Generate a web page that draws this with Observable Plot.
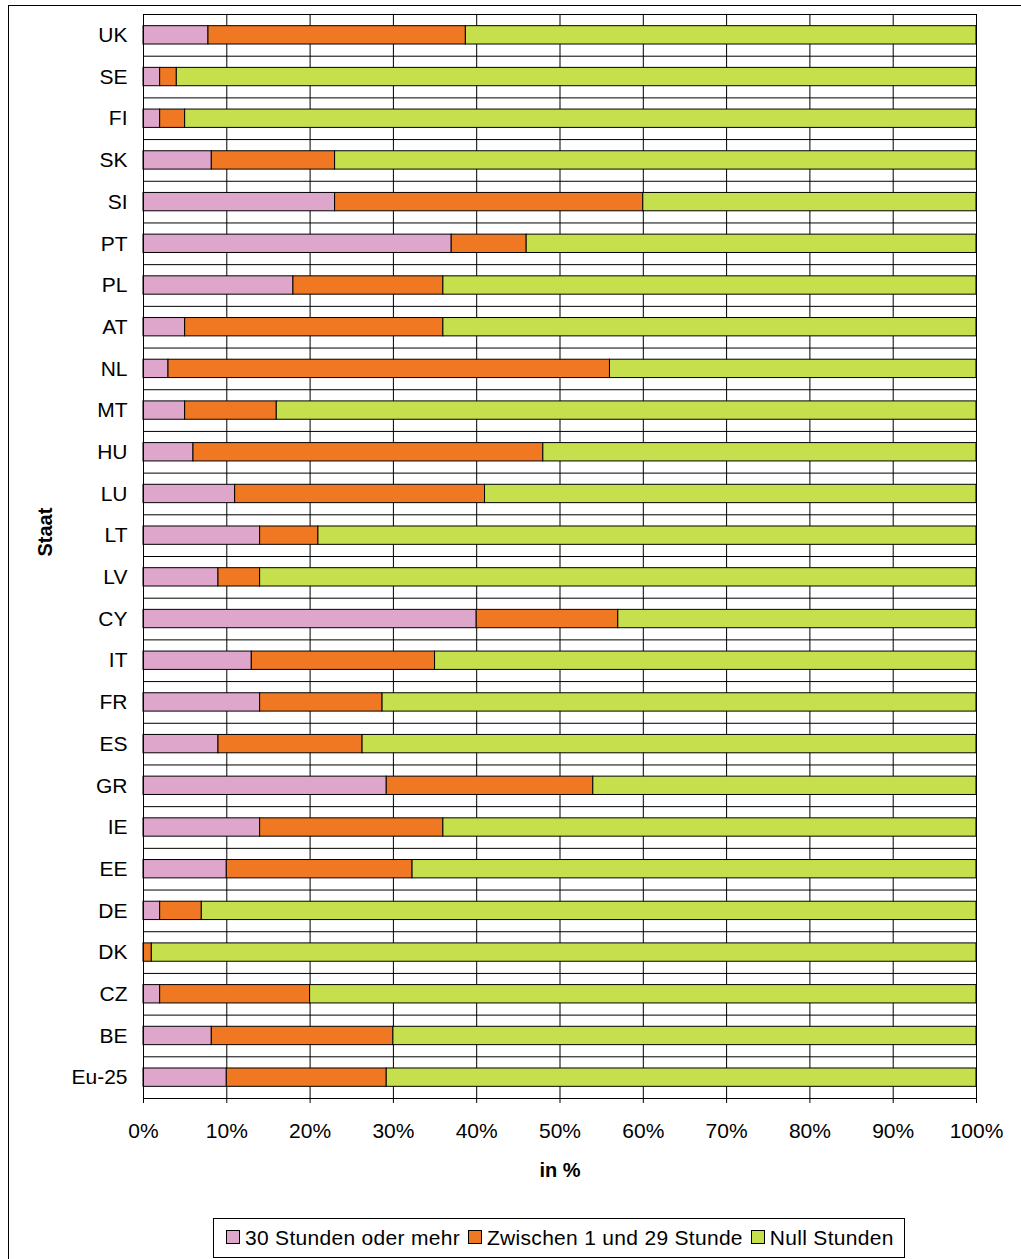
<!DOCTYPE html>
<html><head><meta charset="utf-8">
<script src="https://cdn.jsdelivr.net/npm/d3@7"></script>
<script src="https://cdn.jsdelivr.net/npm/@observablehq/plot@0.6"></script>
<style>
body{margin:0;font-family:"Liberation Sans",Arial,sans-serif;}
#frame{position:absolute;left:8px;top:5px;width:1020px;height:1262px;border:1px solid #000;box-sizing:border-box;}
#chart{position:absolute;left:0;top:0;}
#legend{position:absolute;top:1218px;left:213px;border:1px solid #000;padding:7px 10px 7px 4px;font-size:21px;white-space:nowrap;background:#fff;letter-spacing:0.3px}
#legend span.sw{display:inline-block;width:12px;height:12px;border:1px solid #000;margin:0 5px 0 8px;vertical-align:1px}
</style></head>
<body>
<div id="frame"></div>
<div id="chart"></div>
<div id="legend"></div>
<script>
// Staaten von oben nach unten
const staaten = ["UK","SE","FI","SK","SI","PT","PL","AT","NL","MT","HU","LU","LT","LV","CY","IT","FR","ES","GR","IE","EE","DE","DK","CZ","BE","Eu-25"]
const mehr30 = [7.8,2,2,8.2,23,37,18,5,3,5,6,11,14,9,40,13,14,9,29.2,14,10,2,0,2,8.2,10]
const zw1_29 = [30.9,2,3,14.8,37,9,18,31,53,11,42,30,7,5,17,22,14.7,17.3,24.8,22,22.3,5,1,18,21.8,19.2]
const serien = ["30 Stunden oder mehr","Zwischen 1 und 29 Stunde","Null Stunden"]
const farben = ["#dda6ca","#f07822","#c5e04c"]

const data = []
staaten.forEach((s,i) => {
  data.push({staat:s, serie:serien[0], wert:mehr30[i]})
  data.push({staat:s, serie:serien[1], wert:zw1_29[i]})
  data.push({staat:s, serie:serien[2], wert:100 - mehr30[i] - zw1_29[i]})
})

const height = 1190, mTop = 14, mBottom = 92
const step = (height - mTop - mBottom) / staaten.length

let chart = Plot.plot({
  width: 1021,
  height: height,
  marginLeft: 143,
  marginRight: 45,
  marginTop: mTop,
  marginBottom: mBottom,
  style: {fontFamily: '"Liberation Sans",Arial,sans-serif', fontSize: "21px", color: "black", background: "transparent"},
  x: {domain: [0,100]},
  y: {domain: staaten, paddingInner: 0.56, paddingOuter: 0.28, round: false},
  color: {domain: serien, range: farben},
  marks: [
    Plot.gridX(d3.range(10,101,10), {stroke: "#000", strokeOpacity: 1, strokeWidth: 1}),
    Plot.ruleY(staaten, {y: d => d, dy: step/2, stroke: "#000", strokeWidth: 1}),
    Plot.barX(data, Plot.stackX({order: serien}, {x: "wert", y: "staat", fill: "serie", stroke: "#000", strokeWidth: 1})),
    Plot.frame({stroke: "#000"}),
    Plot.axisX({ticks: d3.range(0,101,10), tickFormat: d => d + "%", tickSize: 5, tickPadding: 20, label: null, fontSize: 21}),
    Plot.axisY({tickSize: 0, tickPadding: 16, label: null, fontSize: 21}),
    Plot.text(["in %"], {frameAnchor: "bottom", dy: 78, fontWeight: "bold", fontSize: 20}),
    Plot.text(["Staat"], {frameAnchor: "left", dx: -98, rotate: -90, fontWeight: "bold", fontSize: 20})
  ]
})
document.querySelector("#chart").append(chart)

const lg = document.querySelector("#legend")
serien.forEach((s,i) => {
  lg.insertAdjacentHTML("beforeend", `<span class="sw" style="background:${farben[i]}"></span>${s}`)
})
</script>
</body></html>
